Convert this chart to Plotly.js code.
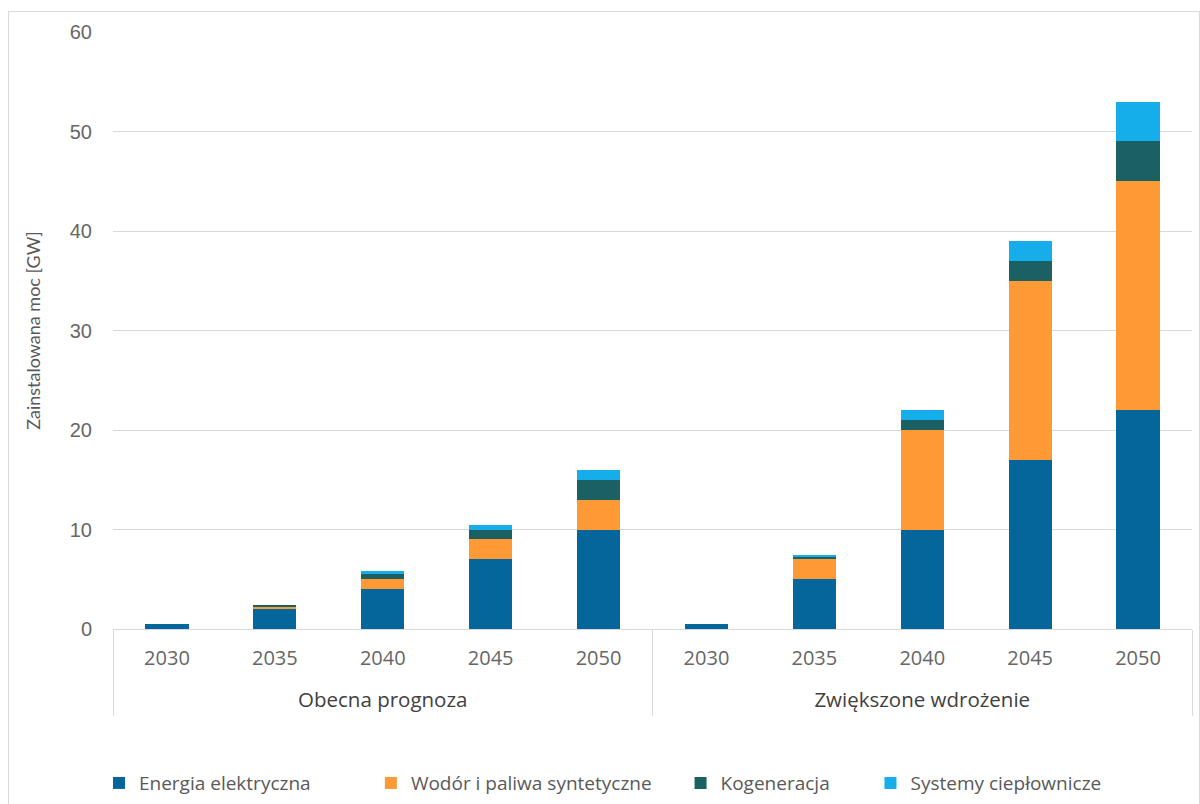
<!DOCTYPE html>
<html>
<head>
<meta charset="utf-8">
<script src="https://cdn.plot.ly/plotly-3.0.1.min.js"></script>
<style>
  html, body { margin: 0; padding: 0; background: #ffffff; }
  #chart { width: 1200px; height: 804px; }
  #frame { position: absolute; left: 8px; top: 11px; width: 1190px; height: 800px;
           border: 1px solid #d9d9d9; pointer-events: none; }
</style>
</head>
<body>
<div id="chart"></div>
<div id="frame"></div>
<script>
// Data
const groups = ["Obecna prognoza", "Obecna prognoza", "Obecna prognoza", "Obecna prognoza", "Obecna prognoza",
                "Zwiększone wdrożenie", "Zwiększone wdrożenie", "Zwiększone wdrożenie", "Zwiększone wdrożenie", "Zwiększone wdrożenie"];
const years = ["2030", "2035", "2040", "2045", "2050", "2030", "2035", "2040", "2045", "2050"];

const energiaElektryczna = [0.5, 2.0, 4.0, 7.0, 10.0, 0.5, 5.0, 10.0, 17.0, 22.0];
const wodorPaliwa        = [0.0, 0.2, 1.0, 2.0, 3.0, 0.0, 2.0, 10.0, 18.0, 23.0];
const kogeneracja        = [0.0, 0.2, 0.5, 1.0, 2.0, 0.0, 0.2, 1.0, 2.0, 4.0];
const systemyCieplownicze= [0.0, 0.0, 0.3, 0.5, 1.0, 0.0, 0.2, 1.0, 2.0, 4.0];

const seriesNames = ["Energia elektryczna", "Wodór i paliwa syntetyczne", "Kogeneracja", "Systemy ciepłownicze"];
const seriesColors = ["#04669b", "#fd9a35", "#1b6163", "#15aeea"];
const seriesValues = [energiaElektryczna, wodorPaliwa, kogeneracja, systemyCieplownicze];
const yTicks = [0, 10, 20, 30, 40, 50, 60];

// category positions derived from the arrays
const xIdx = years.map((_, i) => i);
const groupNames = [...new Set(groups)];
const groupCenters = groupNames.map(g => {
  const idx = xIdx.filter(i => groups[i] === g);
  return (idx[0] + idx[idx.length - 1]) / 2;
});
const groupBounds = [-0.5];
groupNames.forEach(g => {
  const idx = xIdx.filter(i => groups[i] === g);
  groupBounds.push(idx[idx.length - 1] + 0.5);
});
const xRange = [-0.5, years.length - 0.5];

const legendIds = ["legend", "legend2", "legend3", "legend4"];
const traces = seriesValues.map((vals, i) => ({
  type: "bar",
  name: seriesNames[i],
  x: xIdx,
  y: vals,
  marker: { color: seriesColors[i], line: { width: 0 } },
  legend: legendIds[i],
  hoverinfo: "y+name"
}));
// empty helper traces so the overlay axes (group labels, dividers) are drawn
traces.push({ type: "scatter", x: [], y: [], xaxis: "x2", yaxis: "y", showlegend: false, hoverinfo: "skip" });
traces.push({ type: "scatter", x: [], y: [], xaxis: "x3", yaxis: "y", showlegend: false, hoverinfo: "skip" });

const fontFam = "'Open Sans', Lato, sans-serif";
const txtColor = "#595959";
const legendX = [-0.013, 0.239, 0.526, 0.702];
const legendBase = (x) => ({
  orientation: "h", x: x, xref: "paper", y: 0.026, yref: "container",
  xanchor: "left", yanchor: "middle",
  font: { family: fontFam, size: 19, color: txtColor },
  bgcolor: "rgba(0,0,0,0)", itemclick: false, itemdoubleclick: false
});

const layout = {
  width: 1200, height: 804,
  margin: { l: 113, r: 8, t: 32, b: 175, autoexpand: false },
  paper_bgcolor: "#ffffff", plot_bgcolor: "#ffffff",
  barmode: "stack",
  bargap: 0.6,
  font: { family: fontFam, color: txtColor },
  xaxis: {
    type: "linear",
    range: xRange,
    tickvals: xIdx,
    ticktext: years,
    showgrid: false, zeroline: false, showline: false,
    ticks: "",
    ticklabelstandoff: 15,
    tickfont: { family: fontFam, size: 20, color: "#666666" },
    automargin: false
  },
  xaxis2: {
    type: "linear",
    overlaying: "x",
    anchor: "y",
    side: "bottom",
    range: xRange,
    tickvals: groupCenters,
    ticktext: groupNames,
    showgrid: false, zeroline: false, showline: false,
    ticks: "",
    ticklabelstandoff: 56,
    tickfont: { family: fontFam, size: 20.5, color: "#404040" },
    automargin: false
  },
  xaxis3: {
    type: "linear",
    overlaying: "x",
    anchor: "y",
    side: "bottom",
    range: xRange,
    tickvals: groupBounds,
    showticklabels: false,
    showgrid: false, zeroline: false, showline: false,
    ticks: "outside", ticklen: 86, tickwidth: 1, tickcolor: "#d9d9d9",
    automargin: false
  },
  yaxis: {
    range: [0, 60],
    tickvals: yTicks,
    ticktext: yTicks.map(String),
    showgrid: true, gridcolor: "#d9d9d9", gridwidth: 1,
    zeroline: true, zerolinecolor: "#d9d9d9", zerolinewidth: 1,
    showline: false, ticks: "",
    ticklabelstandoff: 20,
    tickfont: { family: "'Liberation Sans', Arial, sans-serif", size: 20, color: "#666666" },
    title: { text: "Zainstalowana moc [GW]", standoff: 24,
             font: { family: "Lato, sans-serif", size: 18, color: txtColor } },
    automargin: false
  },
  showlegend: true,
  legend: legendBase(legendX[0]),
  legend2: legendBase(legendX[1]),
  legend3: legendBase(legendX[2]),
  legend4: legendBase(legendX[3])
};

Plotly.newPlot("chart", traces, layout, { displayModeBar: false, staticPlot: true });
</script>
</body>
</html>
